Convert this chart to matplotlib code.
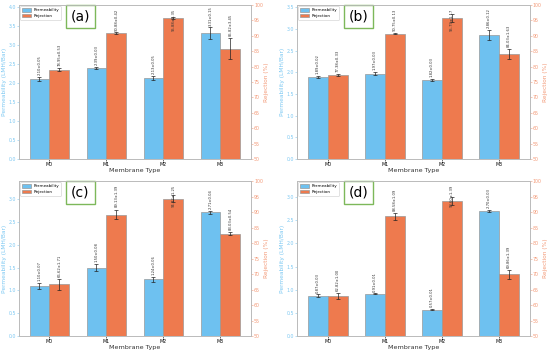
import matplotlib.pyplot as plt
import numpy as np

membranes = ['M0', 'M1', 'M2', 'M3']
panels = ['(a)', '(b)', '(c)', '(d)']

# permeability (LMH/Bar) and rejection (%) per panel, with std
perm_a = [2.10, 2.39, 2.13, 3.31]
perm_err_a = [0.05, 0.03, 0.05, 0.15]
rej_a = [78.95, 90.88, 95.88, 85.82]
rej_err_a = [0.53, 0.42, 0.35, 3.45]

perm_b = [1.89, 1.97, 1.82, 2.86]
perm_err_b = [0.02, 0.03, 0.03, 0.12]
rej_b = [77.38, 90.75, 95.79, 84.03]
rej_err_b = [0.33, 0.13, 1.17, 1.63]

perm_c = [1.10, 1.50, 1.24, 2.71]
perm_err_c = [0.07, 0.08, 0.06, 0.04]
rej_c = [66.62, 89.13, 94.32, 83.03]
rej_err_c = [1.71, 1.39, 1.25, 0.54]

perm_d = [0.87, 0.91, 0.57, 2.70]
perm_err_d = [0.03, 0.01, 0.01, 0.03]
rej_d = [62.82, 88.58, 93.60, 69.86]
rej_err_d = [1.00, 1.09, 1.39, 1.39]

perm_top = [4.05, 3.55, 3.4, 3.35]

blue = '#6EC1F0'
orange = '#EE7A4E'
blue_txt = '#7CC8F2'
orange_txt = '#F39A78'

fig = plt.figure(figsize=(5.5, 3.51), dpi=100)
boxes = [[0.0345, 0.547, 0.4218, 0.4387],
         [0.54, 0.547, 0.423, 0.4387],
         [0.0345, 0.0427, 0.4218, 0.4416],
         [0.54, 0.0427, 0.423, 0.4416]]

data = [(perm_a, perm_err_a, rej_a, rej_err_a),
        (perm_b, perm_err_b, rej_b, rej_err_b),
        (perm_c, perm_err_c, rej_c, rej_err_c),
        (perm_d, perm_err_d, rej_d, rej_err_d)]

x = np.arange(len(membranes))
w = 0.35
ekw = dict(elinewidth=0.5, capthick=0.5, ecolor='#222222')
for i, (perm, perm_err, rej, rej_err) in enumerate(data):
    ax = fig.add_axes(boxes[i])
    ax2 = ax.twinx()
    b1 = ax.bar(x - w/2, perm, w, color=blue, edgecolor='#999999', linewidth=0.5,
                yerr=perm_err, capsize=1.2, error_kw=ekw, label='Permeability')
    b2 = ax2.bar(x + w/2, rej, w, color=orange, edgecolor='#999999', linewidth=0.5,
                 yerr=rej_err, capsize=1.2, error_kw=ekw, label='Rejection')
    ax.set_ylim(0, perm_top[i])
    ax2.set_ylim(50, 100)
    ax.set_yticks(np.arange(0, perm_top[i] + 0.01, 0.5))
    ax2.set_yticks(np.arange(50, 101, 5))
    ax.set_xticks(x)
    ax.set_xticklabels(membranes)
    ax.tick_params(axis='x', labelsize=3.4, length=1.2, width=0.4, pad=1)
    ax.tick_params(axis='y', labelsize=3.4, colors=blue_txt, length=1.2, width=0.4, pad=1)
    ax2.tick_params(axis='y', labelsize=3.4, colors=orange_txt, length=1.2, width=0.4, pad=1)
    ax.set_xlabel('Membrane Type', fontsize=4.6, color='#333333', labelpad=0.8)
    ax.set_ylabel('Permeability (LMH/Bar)', fontsize=4.2, color=blue_txt, labelpad=1.3)
    ax2.set_ylabel('Rejection (%)', fontsize=4.2, color=orange_txt, labelpad=1.0)
    for a in (ax, ax2):
        for s in a.spines.values():
            s.set_color('#bbbbbb')
            s.set_linewidth(0.6)

    # value labels
    for j in range(len(membranes)):
        ax.text(x[j] - w/2, perm[j] + perm_err[j] + perm_top[i] * 0.012,
                f'{perm[j]:.2f}±{perm_err[j]:.2f}', rotation=90, ha='center', va='bottom',
                fontsize=2.7, color='#333333')
        ytop = rej[j] + rej_err[j] + 0.6
        if ytop > 91:
            ax2.text(x[j] + w/2, 98.8, f'{rej[j]:.2f}±{rej_err[j]:.2f}', rotation=90,
                     ha='center', va='top', fontsize=2.7, color='#333333')
        else:
            ax2.text(x[j] + w/2, ytop, f'{rej[j]:.2f}±{rej_err[j]:.2f}', rotation=90,
                     ha='center', va='bottom', fontsize=2.7, color='#333333')

    leg = ax.legend([b1, b2], ['Permeability', 'Rejection'], loc='upper left', fontsize=3,
                    handlelength=2.0, handleheight=0.8, borderpad=0.5, labelspacing=0.35,
                    handletextpad=0.6, borderaxespad=0.3, framealpha=1, edgecolor='#cccccc')
    leg.get_frame().set_linewidth(0.4)
    ax.text(0.265, 0.925, panels[i], transform=ax.transAxes,
            fontsize=10, ha='center', va='center', zorder=10,
            bbox=dict(boxstyle='square,pad=0.35', facecolor='white', edgecolor='#7DB85A', linewidth=1.0))

fig.savefig('out.png', dpi=100)
